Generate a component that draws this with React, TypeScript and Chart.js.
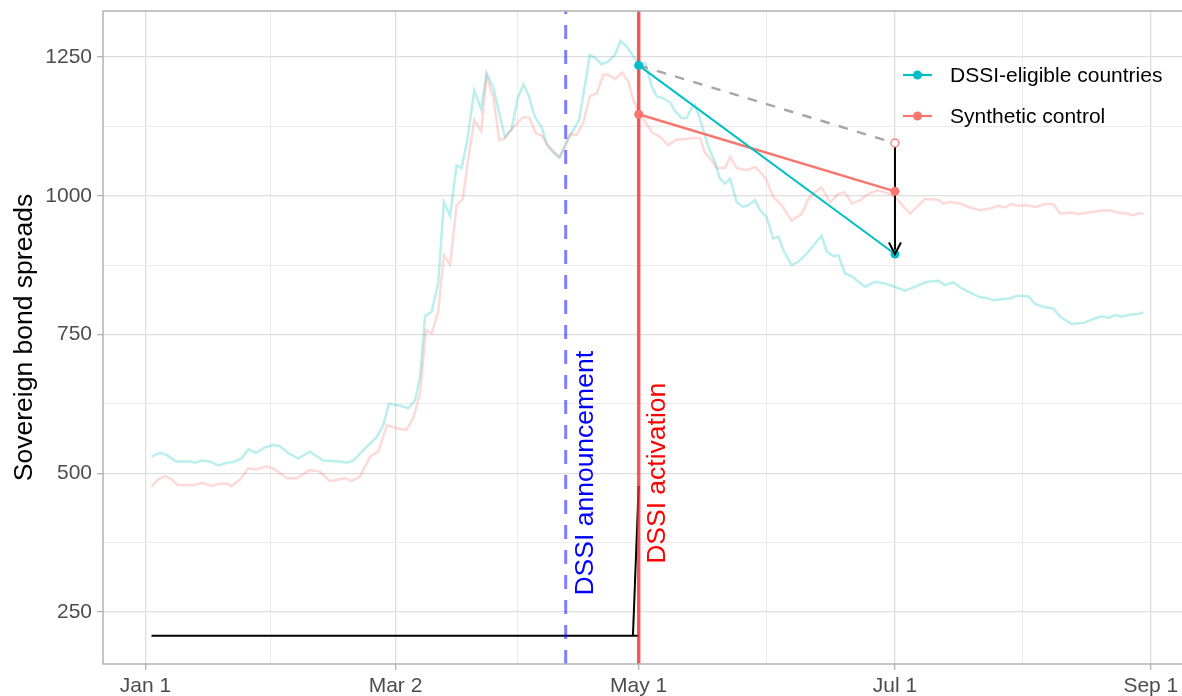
import React, { useEffect, useRef } from 'react';
import { Chart, registerables } from 'chart.js';

Chart.register(...registerables);

// ---------- data ----------
const X_TICK_DAYS = [0, 61, 120.3, 182.8, 245.2];
const X_TICK_LABELS = ['Jan 1', 'Mar 2', 'May 1', 'Jul 1', 'Sep 1'];
const X_MINOR_DAYS = [30.5, 90.7, 151.5, 214.0];
const Y_MAJOR = [250, 500, 750, 1000, 1250];
const Y_MINOR = [375, 625, 875, 1125];
const X_RANGE = [-10.34, 252.8];
const Y_RANGE = [156.3, 1333];

const ELIGIBLE_DAYS = [1.5, 3.6, 5.2, 7.5, 10.9, 12.1, 13.7, 15.8, 17.8, 19.8, 21.4, 23.5, 25.1, 27.0, 29.2, 31.2, 32.8, 34.9, 37.3, 40.1, 43.4, 47.5, 49.1, 50.7, 54.0, 56.4, 58.0, 59.4, 61.3, 62.5, 64.1, 65.8, 67.0, 68.2, 69.8, 71.4, 72.8, 74.3, 75.9, 77.1, 78.5, 80.2, 81.9, 83.2, 84.9, 86.1, 87.7, 89.3, 90.8, 92.2, 93.4, 95.0, 96.7, 97.9, 99.3, 101.0, 102.8, 104.4, 105.8, 107.0, 108.4, 109.7, 111.3, 112.9, 114.5, 115.9, 117.4, 119.0, 120.5, 121.9, 123.5, 124.7, 126.3, 128.0, 129.2, 130.8, 132.0, 133.2, 134.0, 135.3, 137.3, 138.9, 140.1, 141.4, 142.6, 144.2, 145.8, 147.0, 148.7, 149.9, 151.5, 153.1, 154.4, 155.6, 157.6, 159.2, 161.3, 163.3, 164.9, 166.2, 167.8, 169.0, 170.6, 172.3, 173.9, 175.5, 178.0, 180.4, 182.8, 185.3, 187.3, 190.6, 193.4, 195.0, 197.0, 199.1, 201.5, 203.6, 205.2, 206.8, 208.9, 210.9, 212.5, 215.3, 217.0, 219.0, 221.4, 223.1, 225.9, 228.8, 231.2, 233.2, 234.9, 236.5, 238.1, 240.1, 242.2, 243.4];
const ELIGIBLE_SPREADS = [530, 537, 533, 521, 521, 519, 523, 521, 514, 519, 520, 527, 543, 537, 547, 551, 549, 536, 527, 539, 523, 521, 519, 523, 548, 565, 587, 625, 623, 621, 617, 632, 674, 783, 791, 842, 989, 964, 1055, 1050, 1100, 1190, 1156, 1221, 1194, 1155, 1106, 1120, 1176, 1201, 1182, 1142, 1123, 1092, 1079, 1069, 1100, 1119, 1137, 1191, 1254, 1248, 1237, 1242, 1254, 1279, 1269, 1251, 1236, 1239, 1197, 1179, 1176, 1168, 1152, 1140, 1140, 1158, 1164, 1137, 1088, 1061, 1031, 1022, 1031, 989, 980, 983, 992, 974, 962, 923, 926, 902, 875, 881, 896, 914, 928, 899, 891, 893, 860, 855, 845, 836, 845, 842, 836, 829, 835, 845, 847, 839, 844, 833, 824, 817, 816, 812, 814, 815, 820, 819, 805, 800, 797, 782, 769, 771, 778, 783, 780, 785, 782, 786, 787, 790];

const SYNTH_DAYS = [1.5, 3.1, 4.8, 6.4, 7.8, 12.1, 13.7, 16.2, 17.8, 19.8, 21.0, 23.1, 25.1, 27.1, 29.6, 31.6, 34.5, 36.9, 40.1, 42.6, 45.0, 48.7, 50.3, 52.3, 54.8, 56.8, 58.9, 61.3, 63.7, 65.3, 67.0, 68.4, 69.8, 71.4, 72.8, 74.3, 75.9, 77.4, 78.8, 80.2, 81.9, 83.2, 84.9, 86.3, 87.7, 89.3, 91.0, 92.2, 93.6, 95.2, 96.7, 98.3, 99.5, 101.0, 102.3, 103.6, 105.2, 106.8, 108.4, 110.1, 111.7, 112.9, 114.5, 116.2, 117.8, 119.0, 120.5, 121.9, 123.5, 125.5, 127.5, 129.6, 131.6, 133.2, 135.3, 136.5, 138.1, 139.3, 141.4, 142.6, 144.2, 146.7, 148.7, 150.3, 151.5, 153.1, 155.2, 157.6, 160.1, 161.7, 163.3, 164.9, 167.0, 169.0, 170.6, 172.3, 174.3, 176.3, 178.4, 180.0, 181.6, 183.2, 184.9, 186.5, 190.1, 193.4, 194.6, 196.2, 198.7, 201.1, 203.6, 206.0, 207.9, 209.7, 211.3, 212.5, 215.0, 217.0, 219.5, 221.4, 223.1, 225.9, 227.5, 230.0, 232.8, 235.3, 236.9, 239.3, 240.9, 242.1, 243.4];
const SYNTH_SPREADS = [476, 489, 495, 489, 479, 479, 483, 477, 481, 481, 477, 489, 509, 507, 513, 507, 491, 491, 506, 503, 486, 491, 486, 494, 530, 539, 587, 581, 578, 599, 644, 758, 752, 791, 893, 876, 983, 994, 1070, 1137, 1116, 1215, 1176, 1100, 1104, 1120, 1133, 1142, 1141, 1113, 1108, 1090, 1081, 1069, 1086, 1111, 1110, 1133, 1179, 1185, 1218, 1218, 1210, 1222, 1206, 1173, 1147, 1133, 1115, 1106, 1091, 1102, 1102, 1104, 1104, 1077, 1064, 1050, 1050, 1070, 1050, 1046, 1052, 1040, 1028, 998, 983, 955, 968, 995, 1007, 1015, 988, 1004, 1006, 986, 992, 1003, 1010, 1007, 1003, 995, 980, 968, 994, 993, 986, 989, 986, 979, 974, 977, 982, 979, 986, 982, 983, 980, 985, 985, 968, 970, 967, 970, 973, 974, 970, 968, 965, 968, 968];

const ANNOUNCE_DAY = 102.5;
const ACTIVATION_DAY = 120.3;
const EVAL_DAY = 182.8;
const ELIGIBLE_PAIR = [1235, 895];
const SYNTH_PAIR = [1147, 1008];
const COUNTERFACTUAL_PAIR = [1235, 1095];
const BASE_DAYS = [1.5, 120.3];
const BASE_VALUES = [207, 207];
const RISE_DAYS = [118.9, 120.3];
const RISE_VALUES = [207, 477];

const ANNOT_TEXTS = ['DSSI announcement', 'DSSI activation'];
const ANNOT_DAYS = [109.05, 126.7];
const ANNOT_VALUE = 500;
const ANNOT_COLORS = ['#0000FF', '#FF0000'];

const LEGEND_LABELS = ['DSSI-eligible countries', 'Synthetic control'];

// ---------- styles ----------
const CYAN = '#00BFC4';
const RED = '#F8766D';
const FONT = '"Liberation Sans", Arial, sans-serif';

const zip = (xs: number[], ys: number[]) => xs.map((x, i) => ({ x, y: ys[i] }));
const near = (a: number, b: number) => Math.abs(a - b) < 1e-6;
const isXMinor = (v: number) => X_MINOR_DAYS.some((m) => near(m, v));
const isYMinor = (v: number) => Y_MINOR.some((m) => near(m, v));

const overlayPlugin = {
  id: 'overlay',
  afterDatasetsDraw(chart: any) {
    const { ctx, chartArea, scales } = chart;
    const xs = scales.x;
    const ys = scales.y;
    ctx.save();
    // arrow head
    const tx = xs.getPixelForValue(EVAL_DAY);
    const ty = ys.getPixelForValue(ELIGIBLE_PAIR[1]);
    ctx.strokeStyle = '#000';
    ctx.lineWidth = 2;
    ctx.lineCap = 'butt';
    ctx.lineJoin = 'miter';
    ctx.beginPath();
    ctx.moveTo(tx - 6, ty - 11.5);
    ctx.lineTo(tx, ty);
    ctx.lineTo(tx + 6, ty - 11.5);
    ctx.stroke();

    // rotated annotations
    ctx.font = `26.5px ${FONT}`;
    ctx.textAlign = 'center';
    ctx.textBaseline = 'alphabetic';
    ANNOT_TEXTS.forEach((t, i) => {
      ctx.save();
      ctx.translate(xs.getPixelForValue(ANNOT_DAYS[i]), ys.getPixelForValue(ANNOT_VALUE));
      ctx.rotate(-Math.PI / 2);
      ctx.fillStyle = ANNOT_COLORS[i];
      ctx.fillText(t, 0, 0);
      ctx.restore();
    });

    // legend
    const colors = [CYAN, RED];
    const rows = [75, 116];
    ctx.font = `21px ${FONT}`;
    ctx.textAlign = 'left';
    ctx.textBaseline = 'middle';
    LEGEND_LABELS.forEach((lab, i) => {
      const y = rows[i];
      ctx.strokeStyle = colors[i];
      ctx.lineWidth = 2.2;
      ctx.beginPath();
      ctx.moveTo(903, y);
      ctx.lineTo(932, y);
      ctx.stroke();
      ctx.fillStyle = colors[i];
      ctx.beginPath();
      ctx.arc(917.5, y, 4.5, 0, Math.PI * 2);
      ctx.fill();
      ctx.fillStyle = '#000';
      ctx.fillText(lab, 950, y + 1);
    });

    // panel border (right side lies beyond the picture)
    ctx.strokeStyle = '#B3B3B3';
    ctx.lineWidth = 1.5;
    ctx.beginPath();
    ctx.moveTo(chartArea.right + 2, chartArea.top);
    ctx.lineTo(chartArea.left, chartArea.top);
    ctx.lineTo(chartArea.left, chartArea.bottom);
    ctx.lineTo(chartArea.right + 2, chartArea.bottom);
    ctx.stroke();
    ctx.restore();
  },
};

export default function App() {
  const ref = useRef<HTMLCanvasElement | null>(null);
  useEffect(() => {
    if (!ref.current) return;
    const lineBase = { pointRadius: 0, pointHoverRadius: 0, tension: 0, fill: false, borderCapStyle: 'butt' as const };
    const chart = new Chart(ref.current, {
      type: 'line',
      data: {
        datasets: [
          { ...lineBase, label: 'eligible-faint', data: zip(ELIGIBLE_DAYS, ELIGIBLE_SPREADS), borderColor: 'rgba(0,191,196,0.27)', borderWidth: 2.5, order: 20 },
          { ...lineBase, label: 'synth-faint', data: zip(SYNTH_DAYS, SYNTH_SPREADS), borderColor: 'rgba(248,118,109,0.27)', borderWidth: 2.5, order: 19 },
          { ...lineBase, label: 'base', data: zip(BASE_DAYS, BASE_VALUES), borderColor: '#000', borderWidth: 2, order: 18 },
          { ...lineBase, label: 'rise', data: zip(RISE_DAYS, RISE_VALUES), borderColor: '#000', borderWidth: 2, order: 17 },
          { ...lineBase, label: 'announce', data: zip([ANNOUNCE_DAY, ANNOUNCE_DAY], Y_RANGE), borderColor: 'rgba(0,0,255,0.5)', borderWidth: 3, borderDash: [14, 11], order: 16 },
          { ...lineBase, label: 'activation', data: zip([ACTIVATION_DAY, ACTIVATION_DAY], Y_RANGE), borderColor: 'rgba(235,40,40,0.75)', borderWidth: 3.5, order: 15 },
          { ...lineBase, label: 'counterfactual', data: zip([ACTIVATION_DAY, EVAL_DAY], COUNTERFACTUAL_PAIR), borderColor: '#A6A6A6', borderWidth: 2.4, borderDash: [9.5, 9.5], order: 14 },
          { ...lineBase, label: 'arrow', data: zip([EVAL_DAY, EVAL_DAY], [COUNTERFACTUAL_PAIR[1] - 6, ELIGIBLE_PAIR[1]]), borderColor: '#000', borderWidth: 2, order: 13 },
          { ...lineBase, label: 'synth-bold', data: zip([ACTIVATION_DAY, EVAL_DAY], SYNTH_PAIR), borderColor: RED, borderWidth: 2.5, pointRadius: 4.5, pointBackgroundColor: RED, pointBorderWidth: 0, order: 12 },
          { ...lineBase, label: 'eligible-bold', data: zip([ACTIVATION_DAY, EVAL_DAY], ELIGIBLE_PAIR), borderColor: CYAN, borderWidth: 2, pointRadius: 4.5, pointBackgroundColor: CYAN, pointBorderWidth: 0, order: 11 },
          { ...lineBase, label: 'counterfactual-end', data: zip([EVAL_DAY], [COUNTERFACTUAL_PAIR[1]]), showLine: false, pointRadius: 4, pointBackgroundColor: '#fff', pointBorderColor: RED, pointBorderWidth: 1.2, order: 10 },
        ],
      },
      options: {
        responsive: false,
        animation: false,
        events: [],
        layout: { autoPadding: false, padding: { top: 11, right: 0, left: 0, bottom: 0 } },
        plugins: { legend: { display: false }, tooltip: { enabled: false } },
        scales: {
          x: {
            type: 'linear',
            min: X_RANGE[0],
            max: X_RANGE[1],
            bounds: 'data',
            afterBuildTicks: (s: any) => {
              s.ticks = [...X_TICK_DAYS, ...X_MINOR_DAYS].sort((a, b) => a - b).map((v) => ({ value: v }));
            },
            afterFit: (s: any) => { s.height = 32; s.paddingLeft = 0; s.paddingRight = 0; },
            ticks: {
              autoSkip: false,
              maxRotation: 0,
              padding: 4,
              color: '#4D4D4D',
              font: { family: FONT, size: 21 },
              callback: (v: any) => {
                const i = X_TICK_DAYS.findIndex((d) => near(d, Number(v)));
                return i >= 0 ? X_TICK_LABELS[i] : '';
              },
            },
            grid: {
              color: (c: any) => (isXMinor(c.tick?.value) ? '#EBEBEB' : '#DEDEDE'),
              lineWidth: (c: any) => (isXMinor(c.tick?.value) ? 1 : 1.3),
              tickColor: (c: any) => (isXMinor(c.tick?.value) ? 'rgba(0,0,0,0)' : '#B3B3B3'),
              tickLength: 6,
              tickWidth: 1.3,
            },
            border: { display: false },
          },
          y: {
            type: 'linear',
            min: Y_RANGE[0],
            max: Y_RANGE[1],
            bounds: 'data',
            afterBuildTicks: (s: any) => {
              s.ticks = [...Y_MAJOR, ...Y_MINOR].sort((a, b) => a - b).map((v) => ({ value: v }));
            },
            afterFit: (s: any) => { s.width = 103; s.paddingTop = 0; s.paddingBottom = 0; },
            ticks: {
              autoSkip: false,
              padding: 5,
              color: '#4D4D4D',
              font: { family: FONT, size: 21 },
              callback: (v: any) => (Y_MAJOR.some((m) => near(m, Number(v))) ? String(v) : ''),
            },
            grid: {
              color: (c: any) => (isYMinor(c.tick?.value) ? '#EBEBEB' : '#DEDEDE'),
              lineWidth: (c: any) => (isYMinor(c.tick?.value) ? 1 : 1.3),
              tickColor: (c: any) => (isYMinor(c.tick?.value) ? 'rgba(0,0,0,0)' : '#B3B3B3'),
              tickLength: 6,
              tickWidth: 1.3,
            },
            border: { display: false },
            title: {
              display: true,
              text: 'Sovereign bond spreads',
              color: '#000',
              font: { family: FONT, size: 26.5 },
              padding: { top: 9, bottom: 0 },
            },
          },
        },
      },
      plugins: [overlayPlugin],
    } as any);
    return () => chart.destroy();
  }, []);

  return (
    <div style={{ position: 'absolute', left: 0, top: 0, width: 1182, height: 696, background: '#fff' }}>
      <canvas ref={ref} width={1182} height={696} style={{ width: 1182, height: 696, display: 'block' }} />
    </div>
  );
}
